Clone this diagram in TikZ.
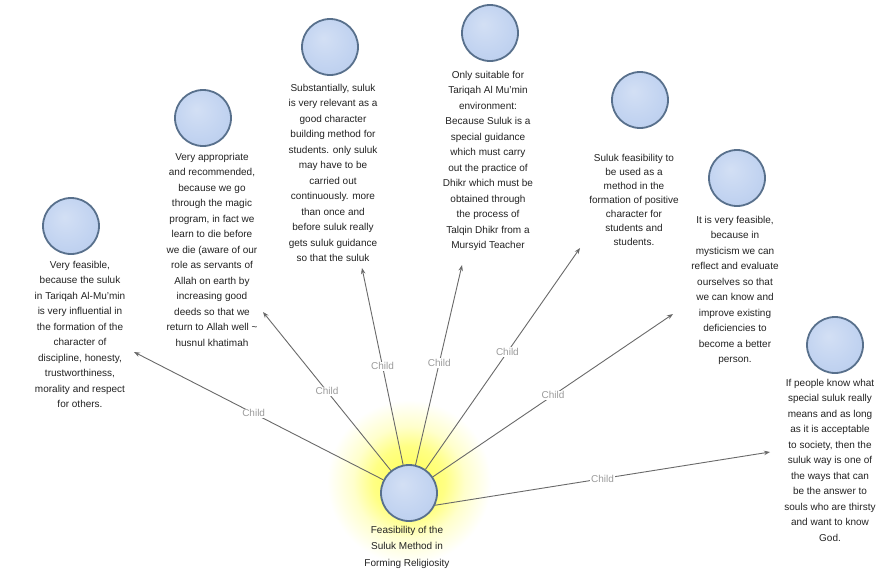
\documentclass[tikz,border=0pt]{standalone}
\usepackage{fontspec}
\setmainfont{Liberation Sans}
\usetikzlibrary{arrows.meta}
\definecolor{nodefill}{RGB}{192,210,240}
\definecolor{nodeedge}{RGB}{88,112,140}
\definecolor{linkc}{RGB}{105,105,105}
\definecolor{labc}{RGB}{155,155,155}
\definecolor{txt}{RGB}{35,35,35}
\pgfdeclareradialshading{glow}{\pgfpoint{0bp}{0bp}}{color(0bp)=(yellow!70!white); color(11bp)=(yellow!48!white); color(17bp)=(yellow!20!white); color(25bp)=(white); color(50bp)=(white)}
\pgfdeclareradialshading{ballshade}{\pgfpoint{-6bp}{8bp}}{color(0bp)=(nodefill!70!white); color(25bp)=(nodefill); color(50bp)=(nodefill!92!black)}
\begin{document}
\begin{tikzpicture}[x=1pt,y=-1pt,
  ball/.style={circle, minimum size=56pt, inner sep=0pt, shading=ballshade, draw=nodeedge, line width=1.8pt},
  desc/.style={align=center, anchor=north, inner sep=0pt, font=\fontsize{10}{15.5}\selectfont, text=txt},
  link/.style={draw=linkc, line width=0.9pt, -{Stealth[length=6pt,width=4.5pt]}},
  lab/.style={font=\fontsize{10}{12}\selectfont, text=labc, fill=white, inner sep=1pt}]
\useasboundingbox (0,0) rectangle (893,571);
\fill[white] (0,0) rectangle (893,571);
\shade[shading=glow] (409,482) circle (82);

% nodes
\node[ball] (c) at (409,493) {};
\node[ball] (n1) at (71,226) {};
\node[ball] (n2) at (203,118) {};
\node[ball] (n3) at (330,47) {};
\node[ball] (n4) at (490,33) {};
\node[ball] (n5) at (640,100) {};
\node[ball] (n6) at (737,178) {};
\node[ball] (n7) at (835,345) {};

% texts
\node[desc, font=\fontsize{10}{16.5}\selectfont] (tc) at (407,526) {Feasibility of the\\Suluk Method in\\Forming Religiosity};
\node[desc] (t1) at (80,261) {Very feasible,\\because the suluk\\in Tariqah Al-Mu'min\\is very influential in\\the formation of the\\character of\\discipline, honesty,\\trustworthiness,\\morality and respect\\for others.};
\node[desc] (t2) at (212,153) {Very appropriate\\and recommended,\\because we go\\through the magic\\program, in fact we\\learn to die before\\we die (aware of our\\role as servants of\\Allah on earth by\\increasing good\\deeds so that we\\return to Allah well \textasciitilde\\husnul khatimah};
\node[desc] (t3) at (333,84) {Substantially, suluk\\is very relevant as a\\good character\\building method for\\students. only suluk\\may have to be\\carried out\\continuously. more\\than once and\\before suluk really\\gets suluk guidance\\so that the suluk};
\node[desc] (t4) at (488,71) {Only suitable for\\Tariqah Al Mu'min\\environment:\\Because Suluk is a\\special guidance\\which must carry\\out the practice of\\Dhikr which must be\\obtained through\\the process of\\Talqin Dhikr from a\\Mursyid Teacher};
\node[desc, font=\fontsize{10}{14}\selectfont] (t5) at (634,154) {Suluk feasibility to\\be used as a\\method in the\\formation of positive\\character for\\students and\\students.};
\node[desc] (t6) at (735,216) {It is very feasible,\\because in\\mysticism we can\\reflect and evaluate\\ourselves so that\\we can know and\\improve existing\\deficiencies to\\become a better\\person.};
\node[desc] (t7) at (830,379) {If people know what\\special suluk really\\means and as long\\as it is acceptable\\to society, then the\\suluk way is one of\\the ways that can\\be the answer to\\souls who are thirsty\\and want to know\\God.};

% arrow ends
\coordinate (e1) at (134,352);
\coordinate (e2) at (263,312);
\coordinate (e3) at (362,268);
\coordinate (e4) at (462,265);
\coordinate (e5) at (580,248);
\coordinate (e6) at (673,314);
\coordinate (e7) at (770,452);

% connectors
\draw[link] (c) -- node[lab,pos=0.52]{Child} (e1);
\draw[link] (c) -- node[lab,pos=0.5]{Child} (e2);
\draw[link] (c) -- node[lab,pos=0.5]{Child} (e3);
\draw[link] (c) -- node[lab,pos=0.51]{Child} (e4);
\draw[link] (c) -- node[lab,pos=0.53]{Child} (e5);
\draw[link] (c) -- node[lab,pos=0.5]{Child} (e6);
\draw[link] (c.-25) -- node[lab,pos=0.5]{Child} (e7);
\end{tikzpicture}
\end{document}
